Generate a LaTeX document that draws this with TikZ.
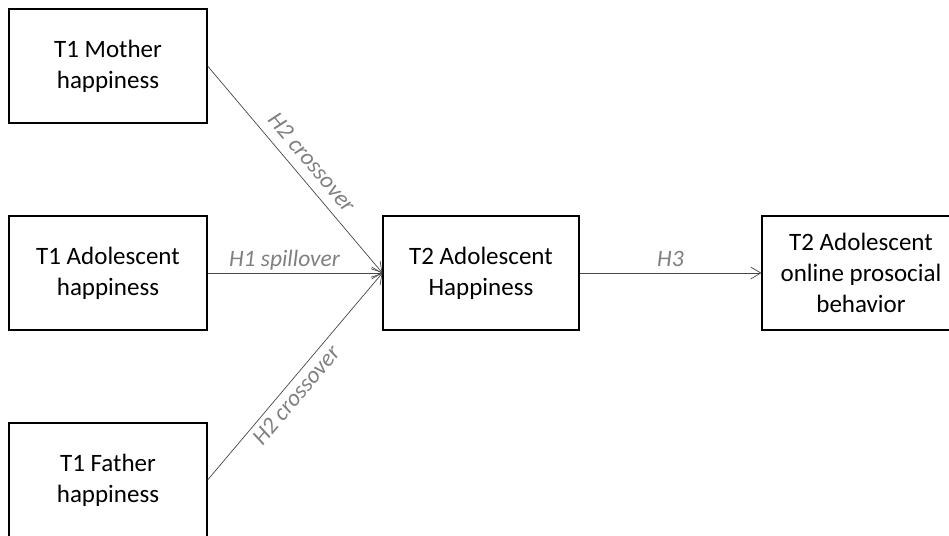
\documentclass[tikz,border=0pt]{standalone}
\usepackage{fontspec}
\setmainfont{Carlito}
\usetikzlibrary{arrows.meta}
\tikzset{
  box/.style={draw=black, line width=1.2pt, minimum width=198pt, minimum height=114pt,
    inner sep=0pt, align=center, font=\fontsize{25}{31}\selectfont},
  conn/.style={draw=black!72, line width=0.7pt,
    -{Straight Barb[length=10pt,width=12pt,line width=0.7pt]}},
  lbl/.style={text=black!50, font=\fontsize{23.5}{28}\itshape\selectfont,
    inner sep=0pt, text height=0.7em, text depth=0.25em}
}
\begin{document}
\begin{tikzpicture}[x=1pt,y=1pt]
\useasboundingbox (0,0) rectangle (949,535);
\node[box] (mother) at (108,469) {T1 Mother\\happiness};
\node[box] (adol) at (108,262) {T1 Adolescent\\happiness};
\node[box] (father) at (108,55) {T1 Father\\happiness};
\node[box, minimum width=196pt] (t2) at (481,262) {T2 Adolescent\\Happiness};
\node[box] (out) at (861,262) {T2 Adolescent\\online prosocial\\behavior};
\draw[conn] (mother.east) -- node[lbl, sloped, pos=0.52, above=7pt] {H2 crossover} (t2.west);
\draw[conn] (adol.east) -- node[lbl, pos=0.44, above=4pt] {H1 spillover} (t2.west);
\draw[conn] (father.east) -- node[lbl, sloped, pos=0.45, below=13pt] {H2 crossover} (t2.west);
\draw[conn] (t2.east) -- node[lbl, pos=0.5, above=4pt] {H3} (out.west);
\end{tikzpicture}
\end{document}
